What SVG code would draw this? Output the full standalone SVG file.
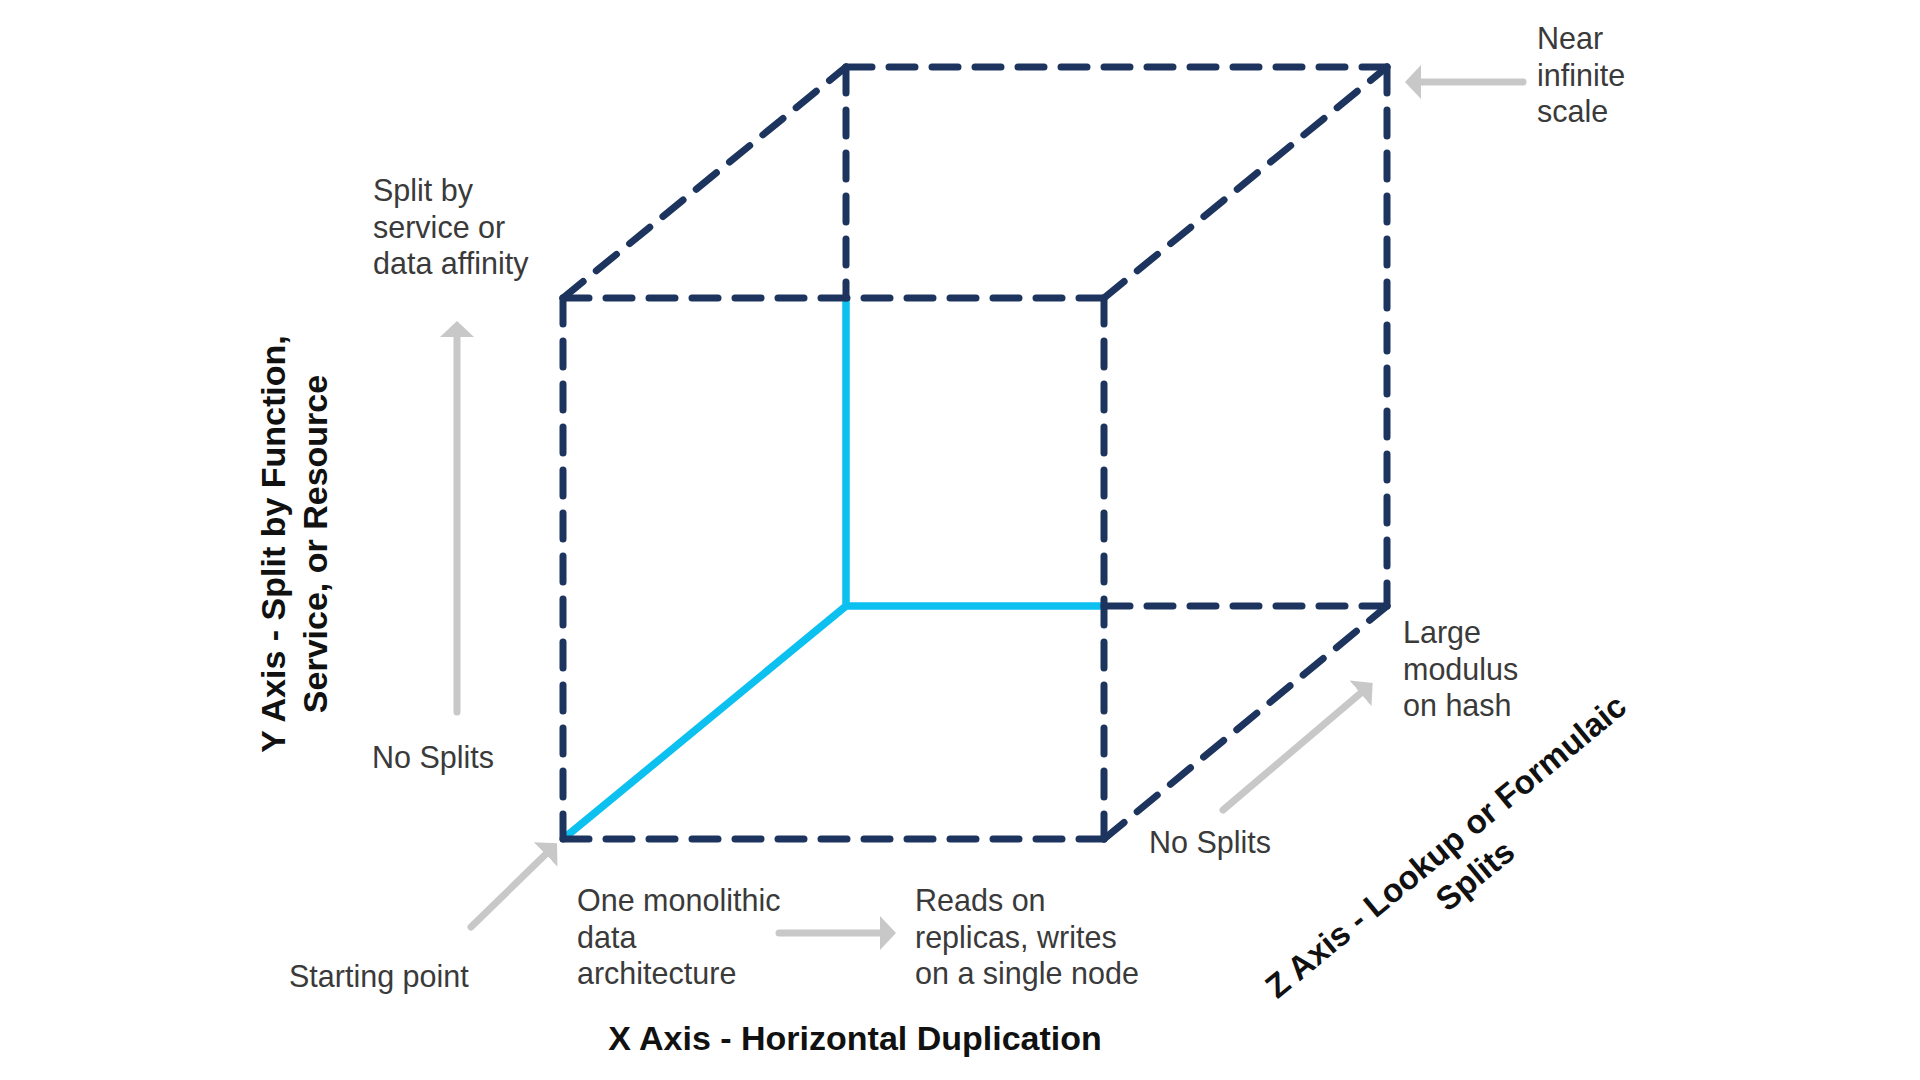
<svg xmlns="http://www.w3.org/2000/svg" width="1920" height="1080" viewBox="0 0 1920 1080">
<style>
.edge{stroke:#1d355e;stroke-width:7;stroke-dasharray:26 17;stroke-linecap:round;fill:none}
.hid{stroke:#0cc0f0;stroke-width:7.5;fill:none;stroke-linejoin:miter}
.arr{stroke:#c8c8c8;stroke-width:7;stroke-linecap:round;fill:none;marker-end:url(#ah)}
.lbl{font-family:"Liberation Sans",Arial,sans-serif;font-size:30.5px;fill:#3a3a3a}
.ax{font-family:"Liberation Sans",Arial,sans-serif;font-weight:bold;fill:#111;text-anchor:middle}
</style>
<defs>
<marker id="ah" markerUnits="userSpaceOnUse" viewBox="0 0 16 34" markerWidth="16" markerHeight="34" refX="2" refY="17" orient="auto">
<path d="M0,0 L16,17 L0,34 Z" fill="#c8c8c8"/>
</marker>
</defs>
<rect width="1920" height="1080" fill="#ffffff"/>
<g id="cube">
<path class="hid" d="M846,298 L846,606 L1104,606 M846,606 L563,839"/>
<line class="edge" x1="563" y1="298" x2="1104" y2="298"/>
<line class="edge" x1="563" y1="839" x2="1104" y2="839"/>
<line class="edge" x1="563" y1="298" x2="563" y2="839"/>
<line class="edge" x1="1104" y1="298" x2="1104" y2="839"/>
<line class="edge" x1="846" y1="67" x2="1387" y2="67"/>
<line class="edge" x1="1387" y1="67" x2="1387" y2="606"/>
<line class="edge" x1="846" y1="67" x2="846" y2="298"/>
<line class="edge" x1="1104" y1="606" x2="1387" y2="606"/>
<line class="edge" x1="563" y1="298" x2="846" y2="67"/>
<line class="edge" x1="1104" y1="298" x2="1387" y2="67"/>
<line class="edge" x1="1104" y1="839" x2="1387" y2="606"/>
</g>
<g id="connectors">
<line class="arr" x1="457" y1="712" x2="457" y2="335"/>
<line class="arr" x1="1523" y1="82" x2="1419" y2="82"/>
<line class="arr" x1="471" y1="927" x2="547" y2="853"/>
<line class="arr" x1="779" y1="933" x2="882" y2="933"/>
<line class="arr" x1="1223" y1="810" x2="1362" y2="692"/>
</g>
<g id="near-infinite">
<text class="lbl" x="1537" y="49">Near</text>
<text class="lbl" x="1537" y="86">infinite</text>
<text class="lbl" x="1537" y="122">scale</text>
</g>
<g id="split-by-service">
<text class="lbl" x="373" y="201">Split by</text>
<text class="lbl" x="373" y="238">service or</text>
<text class="lbl" x="373" y="274">data affinity</text>
</g>
<g id="no-splits-y">
<text class="lbl" x="372" y="768">No Splits</text>
</g>
<g id="starting-point">
<text class="lbl" x="289" y="987">Starting point</text>
</g>
<g id="monolithic">
<text class="lbl" x="577" y="911">One monolithic</text>
<text class="lbl" x="577" y="948">data</text>
<text class="lbl" x="577" y="984">architecture</text>
</g>
<g id="reads-on-replicas">
<text class="lbl" x="915" y="911">Reads on</text>
<text class="lbl" x="915" y="948">replicas, writes</text>
<text class="lbl" x="915" y="984">on a single node</text>
</g>
<g id="no-splits-z">
<text class="lbl" x="1149" y="853">No Splits</text>
</g>
<g id="large-modulus">
<text class="lbl" x="1403" y="643">Large</text>
<text class="lbl" x="1403" y="680">modulus</text>
<text class="lbl" x="1403" y="716">on hash</text>
</g>
<g id="x-axis">
<text class="ax" x="855" y="1050" font-size="34">X Axis - Horizontal Duplication</text>
</g>
<g id="y-axis" transform="translate(285,544) rotate(-90)">
<text class="ax" x="0" y="0" font-size="34">Y Axis - Split by Function,</text>
<text class="ax" x="0" y="42" font-size="34">Service, or Resource</text>
</g>
<g id="z-axis" transform="translate(1453,855) rotate(-39.5)">
<text class="ax" x="0" y="0" font-size="33">Z Axis - Lookup or Formulaic</text>
<text class="ax" x="4" y="41" font-size="33">Splits</text>
</g>
</svg>
